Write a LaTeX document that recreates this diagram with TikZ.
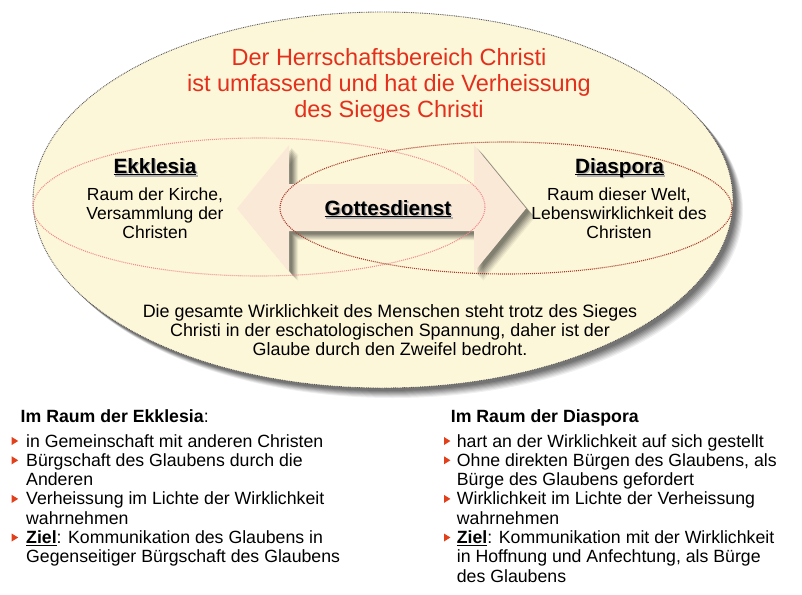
\documentclass[tikz,border=0pt]{standalone}
\usepackage{fontspec}
\setmainfont{Liberation Sans}
\definecolor{creamin}{HTML}{FDF7DA}
\definecolor{creamout}{HTML}{F7EEC4}
\definecolor{titlered}{HTML}{E3301C}
\definecolor{bulred}{HTML}{E2401B}
\definecolor{pinkdot}{HTML}{F08C8C}
\definecolor{darkdot}{HTML}{A83A2A}
\definecolor{arrowfill}{HTML}{FBE9D8}
\pgfdeclareradialshading{bigell}{\pgfpoint{0bp}{0bp}}{color(0bp)=(creamin); color(38bp)=(creamin); color(50bp)=(creamout); color(52bp)=(creamout)}
\newcommand\myul[1]{\setbox0\hbox{#1}\rlap{\rule[-2.4pt]{\wd0}{1.3pt}}\box0}
\newcommand\shtext[1]{\rlap{\raisebox{-1.3pt}{\kern1.3pt\textcolor{black!30}{#1}}}#1}
\tikzset{
  titlefont/.style={font=\fontsize{23.5pt}{26pt}\selectfont, text=titlered},
  headfont/.style={font=\fontsize{20.7pt}{24pt}\selectfont\bfseries},
  bodyfont/.style={font=\fontsize{17.5pt}{19pt}\selectfont},
  listfont/.style={font=\fontsize{17.7pt}{19.3pt}\selectfont},
  dotline/.style={line width=1.1pt, dash pattern=on 1pt off 1pt},
  txt/.style={inner sep=0pt, anchor=base},
  item/.style={inner sep=0pt, anchor=base west, align=left, listfont}
}
\begin{document}
\begin{tikzpicture}[x=1pt,y=-1pt]
\useasboundingbox (0,0) rectangle (802,594);
% shadow of big ellipse
\foreach \d/\o in {10/0.06,9/0.07,8/0.08,7/0.09,6/0.10,5/0.11,4/0.12,3/0.12}
  \fill[black,opacity=\o] (383+\d,200+\d) ellipse [x radius=350, y radius=188];
% big ellipse
\shade[shading=bigell] (383,200) ellipse [x radius=350, y radius=188];
\draw[black!65, line width=0.9pt, dash pattern=on 0.9pt off 0.9pt] (383,200) ellipse [x radius=350, y radius=188];
% arrow shadow
\foreach \d/\o in {9/0.06,8/0.07,7/0.08,6/0.09,5/0.10,4/0.11,3/0.11}
  \fill[black,opacity=\o,shift={(\d,\d)}] (237,208.5) -- (289,145) -- (289,184) -- (474,184) -- (474,145) -- (526,208.5) -- (474,272) -- (474,231) -- (289,231) -- (289,272) -- cycle;
% arrow
\fill[arrowfill] (237,208.5) -- (289,145) -- (289,184) -- (474,184) -- (474,145) -- (526,208.5) -- (474,272) -- (474,231) -- (289,231) -- (289,272) -- cycle;
% dotted ellipses
\draw[pinkdot, dotline] (259,207) ellipse [x radius=226, y radius=69];
\draw[darkdot, dotline] (506,208) ellipse [x radius=226, y radius=66];
% title
\node[txt, titlefont, align=center] (title) at (389,117) {Der Herrschaftsbereich Christi\\ist umfassend und hat die Verheissung\\des Sieges Christi};
% Ekklesia
\node[txt, headfont] (ekkh) at (155,173) {\shtext{\myul{Ekklesia}}};
\node[txt, bodyfont, align=center] (ekkb) at (155,238) {Raum der Kirche,\\Versammlung der\\Christen};
% Diaspora
\node[txt, headfont] (diah) at (619.5,173) {\shtext{\myul{Diaspora}}};
\node[txt, bodyfont, align=center] (diab) at (619,238) {Raum dieser Welt,\\Lebenswirklichkeit des\\Christen};
% Gottesdienst
\node[txt, headfont] (gd) at (388,215) {\shtext{\myul{Gottesdienst}}};
% bottom text
\node[txt, font=\fontsize{17.9pt}{18.9pt}\selectfont, align=center] (bottom) at (390,355) {Die gesamte Wirklichkeit des Menschen steht trotz des Sieges\\Christi in der eschatologischen Spannung, daher ist der\\Glaube durch den Zweifel bedroht.};
% left list
\node[item] (lh) at (20.5,422) {\textbf{Im Raum der Ekklesia}:};
\node[item] (l1) at (26,447) {in Gemeinschaft mit anderen Christen};
\node[item] (l2) at (26,485.6) {Bürgschaft des Glaubens durch die\\Anderen};
\node[item] (l3) at (26,524.2) {Verheissung im Lichte der Wirklichkeit\\wahrnehmen};
\node[item] (l4) at (26,562.8) {\myul{\textbf{Ziel}}: Kommunikation des Glaubens in\\Gegenseitiger Bürgschaft des Glaubens};
% right list
\node[item] (rh) at (450.7,422) {\textbf{Im Raum der Diaspora}};
\node[item] (r1) at (456.7,447) {hart an der Wirklichkeit auf sich gestellt};
\node[item] (r2) at (456.7,485.6) {Ohne direkten Bürgen des Glaubens, als\\Bürge des Glaubens gefordert};
\node[item] (r3) at (456.7,524.2) {Wirklichkeit im Lichte der Verheissung\\wahrnehmen};
\node[item] (r4) at (456.7,582.1) {\myul{\textbf{Ziel}}: Kommunikation mit der Wirklichkeit\\in Hoffnung und Anfechtung, als Bürge\\des Glaubens};
% bullets (on the first line of each item)
\foreach \n/\k in {l1/0,l2/1,l3/1,l4/1}
  \fill[bulred, shift={(\n.base west)}, yshift=\k*19.3pt] (-14.3,-10) -- (-7.8,-6) -- (-14.3,-2) -- cycle;
\foreach \n/\k in {r1/0,r2/1,r3/1,r4/2}
  \fill[bulred, shift={(\n.base west)}, yshift=\k*19.3pt] (-12.7,-10) -- (-6.3,-6) -- (-12.7,-2) -- cycle;
\end{tikzpicture}
\end{document}
